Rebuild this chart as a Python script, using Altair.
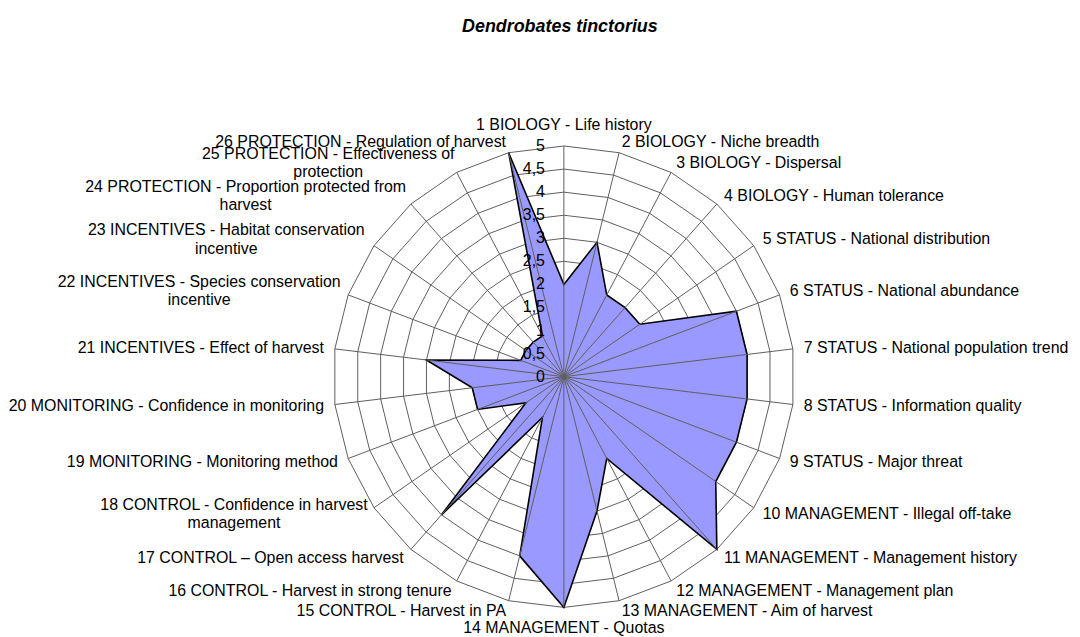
import altair as alt
import pandas as pd

# ---------------- data ----------------
chart_title = ["Dendrobates tinctorius"]

categories = [
    "1 BIOLOGY - Life history",
    "2 BIOLOGY - Niche breadth",
    "3 BIOLOGY - Dispersal",
    "4 BIOLOGY - Human tolerance",
    "5 STATUS - National distribution",
    "6 STATUS - National abundance",
    "7 STATUS  - National population trend",
    "8 STATUS - Information quality",
    "9 STATUS  - Major threat",
    "10 MANAGEMENT - Illegal off-take",
    "11 MANAGEMENT - Management history",
    "12 MANAGEMENT -  Management plan",
    "13 MANAGEMENT - Aim of harvest",
    "14 MANAGEMENT - Quotas",
    "15 CONTROL - Harvest in PA",
    "16 CONTROL - Harvest in strong tenure",
    "17 CONTROL  \u2013 Open access harvest",
    "18 CONTROL - Confidence in harvest\nmanagement",
    "19 MONITORING - Monitoring method",
    "20 MONITORING - Confidence in monitoring",
    "21 INCENTIVES - Effect of harvest",
    "22 INCENTIVES - Species conservation\nincentive",
    "23 INCENTIVES - Habitat conservation\nincentive",
    "24 PROTECTION - Proportion protected from\nharvest",
    "25 PROTECTION - Effectiveness of\nprotection",
    "26 PROTECTION - Regulation of harvest",
]

values = [2, 3, 2, 2, 2, 4, 4, 4, 4, 4, 5, 2, 3, 5, 4, 1, 4, 1, 2, 2, 3, 1, 1, 1, 1, 5]

tick_values = [0, 0.5, 1, 1.5, 2, 2.5, 3, 3.5, 4, 4.5, 5]
tick_labels = ["0", "0,5", "1", "1,5", "2", "2,5", "3", "3,5", "4", "4,5", "5"]

# ---------------- layout constants ----------------
W, H = 1064, 629
PX = 46.4            # pixels per value unit
CX, CY = 559, 369    # centre of the radar inside the plot area
RL = 243 / PX        # radius of category label anchors
CW = 7.75            # approx. average char width (px) for label centering
LH = 18.5            # line height of wrapped labels
FONT = "Liberation Sans, Arial, sans-serif"
FS = 16
N = len(categories)
VMAX = max(tick_values)

xs = alt.Scale(domain=[-CX / PX, (W - CX) / PX], nice=False, zero=False)
ys = alt.Scale(domain=[-(H - CY) / PX, CY / PX], nice=False, zero=False)
X = lambda f: alt.X(f, type="quantitative", scale=xs, axis=None)
Y = lambda f: alt.Y(f, type="quantitative", scale=ys, axis=None)

axis_df = pd.DataFrame({
    "i": list(range(N)),
    "label": categories,
    "value": values,
    "first_len": [len(c.split("\n")[0]) for c in categories],
    "nlines": [len(c.split("\n")) for c in categories],
})

ring_rows = [{"level": lv, "k": k} for lv in tick_values[1:] for k in range(N + 1)]
ring_df = pd.DataFrame(ring_rows)

tick_df = pd.DataFrame({"v": tick_values, "t": tick_labels})
title_df = pd.DataFrame({"t": chart_title})

ang = f"2*PI*datum.i/{N}"

# rings
rings = alt.Chart(ring_df).transform_calculate(
    ang=f"2*PI*datum.k/{N}"
).transform_calculate(
    x="datum.level*sin(datum.ang)", y="datum.level*cos(datum.ang)"
).mark_line(color="#5e5e5e", strokeWidth=1).encode(
    x=X("x"), y=Y("y"), detail="level:N", order="k:Q"
)

base = alt.Chart(axis_df).transform_calculate(ang=ang)

# filled polygon
poly = base.transform_calculate(
    x="datum.value*sin(datum.ang)", y="datum.value*cos(datum.ang)"
).mark_line(
    interpolate="linear-closed", fill="#9999FF", stroke="#000000",
    strokeWidth=1.6, strokeJoin="miter"
).encode(x=X("x"), y=Y("y"), order="i:Q")

# spokes
spokes = base.transform_calculate(
    x0="0", y0="0",
    x1=f"{VMAX}*sin(datum.ang)", y1=f"{VMAX}*cos(datum.ang)"
).mark_rule(color="#5e5e5e", strokeWidth=1).encode(
    x=X("x0"), y=Y("y0"), x2="x1:Q", y2="y1:Q"
)

# value tick labels
ticks = alt.Chart(tick_df).transform_calculate(x0="0").mark_text(
    align="right", baseline="middle", dx=-19, font=FONT, fontSize=FS, color="#000000"
).encode(x=X("x0"), y=Y("v"), text="t:N")

# category labels
lab = base.transform_calculate(
    lx=f"{RL}*sin(datum.ang)", ly=f"{RL}*cos(datum.ang)"
)
txt = dict(font=FONT, fontSize=FS, color="#000000")

lab_top = lab.transform_filter("datum.i == 0").mark_text(
    align="center", baseline="bottom", dy=-2, **txt
).encode(x=X("lx"), y=Y("ly"), text="label:N")

lab_bottom = lab.transform_filter(f"datum.i == {N // 2}").mark_text(
    align="center", baseline="top", dy=2, **txt
).encode(x=X("lx"), y=Y("ly"), text="label:N")

lab_right = lab.transform_filter(f"datum.i > 0 && datum.i < {N // 2}").mark_text(
    align="left", baseline="middle", **txt
).encode(x=X("lx"), y=Y("ly"), text="label:N")

lab_left = lab.transform_filter(
    f"datum.i > {N // 2} && datum.nlines == 1"
).mark_text(align="right", baseline="middle", **txt).encode(
    x=X("lx"), y=Y("ly"), text="label:N"
)

lab_left_multi = lab.transform_filter(
    f"datum.i > {N // 2} && datum.nlines > 1"
).transform_calculate(
    lxc=f"datum.lx - datum.first_len*{CW}/2/{PX}"
).mark_text(
    align="center", baseline="middle", lineBreak="\n", lineHeight=LH,
    dy=-LH / 2, **txt
).encode(x=X("lxc"), y=Y("ly"), text="label:N")

# title
title = alt.Chart(title_df).transform_calculate(x0="0").mark_text(
    align="center", baseline="middle", font=FONT, fontSize=18,
    fontWeight="bold", fontStyle="italic", color="#000000", dx=-4
).encode(x=X("x0"), y=alt.value(17), text="t:N")

chart = alt.layer(
    rings, poly, spokes, ticks,
    lab_top, lab_bottom, lab_right, lab_left, lab_left_multi, title
).properties(
    width=W, height=H,
    autosize=alt.AutoSizeParams(type="none"),
    padding={"left": 0, "top": 0, "right": 6, "bottom": 0},
    background="#ffffff",
).configure_view(stroke=None)

chart.save("out.html", embed_options={"renderer": "svg", "actions": False})
